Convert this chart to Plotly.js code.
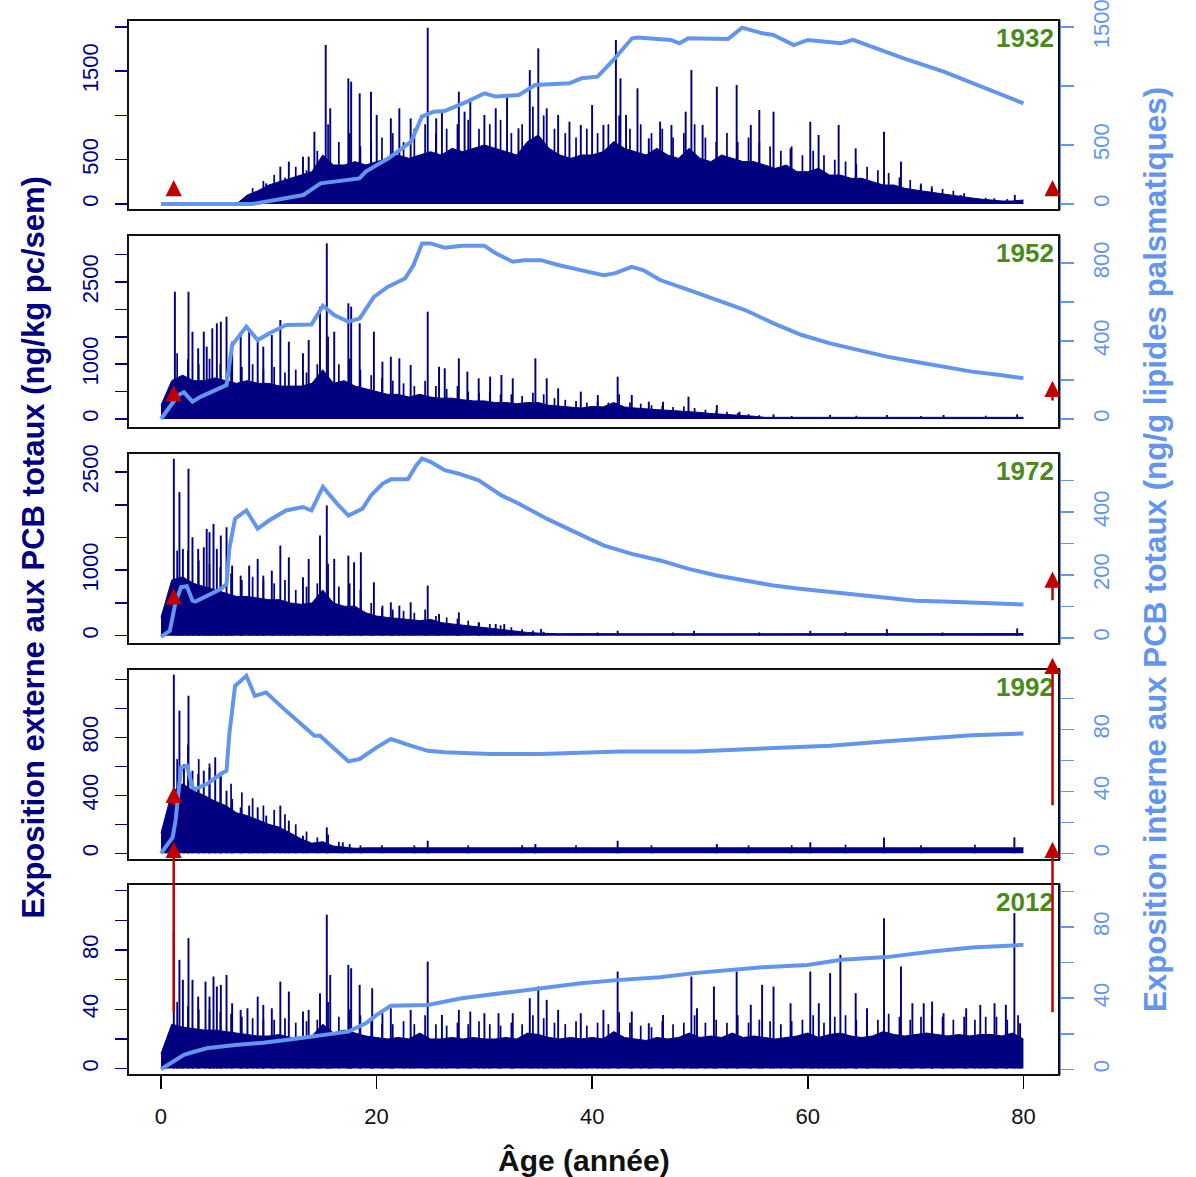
<!DOCTYPE html>
<html><head><meta charset="utf-8">
<script src="https://cdn.plot.ly/plotly-3.0.1.min.js"></script>
<style>html,body{margin:0;padding:0;background:#fff}</style>
</head><body><div id="chart" style="width:1196px;height:1177px"></div>
<script>
// ---------- DATA ----------
const years = ['1932','1952','1972','1992','2012'];
const ageYears = [0,1,2,3,4,5,6,7,8,9,10,11,12,13,14,15,16,17,18,19,20,21,22,23,24,25,26,27,28,29,30,31,32,33,34,35,36,37,38,39,40,41,42,43,44,45,46,47,48,49,50,51,52,53,54,55,56,57,58,59,60,61,62,63,64,65,66,67,68,69,70,71,72,73,74,75,76,77,78,79,80];

// dense body of weekly external exposure (ng/kg pc/sem), one value per year of age
const body1932 = [0,0,0,0,0,0,0,0,100,150,214,252,290,327,365,553,440,440,478,440,478,515,553,515,553,590,553,628,590,628,666,628,590,553,704,779,628,553,515,553,553,590,704,628,590,553,628,553,515,628,515,478,553,515,478,478,440,402,440,365,365,402,327,327,290,290,252,214,214,177,158,139,120,102,83,71,56,41,34,34,45];
const body1952 = [250,700,800,700,700,750,700,650,700,650,650,600,600,600,650,900,650,700,600,550,500,450,450,400,450,400,380,380,350,330,330,300,300,280,300,300,250,230,220,200,230,220,300,220,200,180,170,160,150,140,120,100,90,80,60,50,30,35,30,30,35,30,30,30,35,30,30,30,35,30,30,30,30,35,30,30,30,30,35,30,30];
const body1972 = [280,850,900,800,750,700,650,600,600,580,550,550,500,480,500,700,500,450,450,350,300,280,260,240,230,250,200,180,160,140,120,110,90,70,50,40,30,30,32,30,30,30,30,32,30,30,30,30,30,32,30,30,30,30,30,30,30,30,32,30,30,30,30,30,30,32,30,30,30,30,30,30,30,30,30,30,30,30,30,30,32];
const body1992 = [140,420,480,430,400,360,330,280,260,230,200,180,140,100,70,80,50,40,35,38,38,36,38,36,40,38,36,38,36,38,38,36,38,36,38,40,38,36,38,36,38,36,40,38,36,38,36,38,36,38,38,36,38,36,38,36,38,38,36,38,40,38,36,38,36,38,36,40,38,36,38,36,38,38,36,38,38,36,38,40,38];
const body2012 = [10,30,28,27,26,26,25,24,23,22,22,23,21,21,22,30,24,26,24,22,21,20,21,20,24,20,20,21,20,21,20,20,21,20,24,23,21,20,21,20,21,20,25,21,20,19,21,20,21,24,21,22,21,24,21,22,21,20,21,22,24,21,23,24,22,21,22,25,23,22,23,24,23,22,23,22,23,23,22,24,20];

// tallest visible peaks of weekly external exposure (age, value)
const spikeAge1932 = [9.76,11.07,11.86,13.17,13.70,14.23,15.28,15.70,17.38,17.64,18.43,19.48,20.01,21.32,22.11,23.16,24.74,25.53,26.06,27.63,28.16,28.69,30.00,31.05,32.10,33.16,34.21,35.0,35.78,36.84,37.89,38.94,39.99,41.04,42.2,42.62,43.14,44.2,45.25,46.30,47.35,48.67,49.2,50.24,51.56,53.4,54.71,55.5,56.82,58.4,60.23,61.0,62.86,64.44,67.07,68.64,70.48,71.5,74.17,77.3,79.2];
const spikeVal1932 = [233,421,478,534,534,816,1795,1080,1418,1381,1249,1268,1005,967,1080,967,1990,967,1042,1268,1042,1193,1005,1080,1230,854,1512,1757,1080,1005,929,892,1117,892,1851,1418,1005,1306,741,929,892,1042,1512,892,1324,1343,892,1061,1042,628,929,779,892,628,816,478,214,177,102,64,102];
const spikeAge1952 = [1.29,2.55,2.92,3.45,3.97,4.24,4.76,5.18,5.55,6.08,6.60,7.39,8.18,8.97,9.49,10.28,11.07,11.86,13.17,13.70,14.75,15.38,16.07,17.38,17.64,18.43,19.75,20.54,21.32,22.11,23.16,24.74,25.79,26.32,27.63,28.42,29.47,30.53,31.58,32.63,34.73,35.78,36.84,38.94,40.52,42.36,43.67,45.25,46.57,48.93,51.56,53.66,56.82,62.07,67.33,72.59,79.42];
const spikeVal1952 = [2324,2324,1594,1290,1594,1320,1655,1746,1776,1867,1411,1594,1655,1411,1320,1533,1807,1411,1198,1442,2050,3206,1594,2111,2050,1746,1594,1046,1137,1107,985,1959,955,925,1107,864,742,773,803,742,1107,742,560,499,438,773,438,316,316,408,255,134,85,73,73,73,85];
const spikeAge1972 = [1.19,1.71,2.03,2.55,2.92,3.45,3.97,4.24,4.50,4.87,5.18,5.55,6.08,6.60,7.39,8.18,8.97,9.49,10.28,11.07,11.86,13.17,13.70,14.75,15.38,16.07,17.38,17.91,18.54,19.75,20.54,21.32,22.11,23.16,24.74,25.79,27.63,29.47,31.05,31.84,35.26,42.36,49.45,60.23,67.33,79.42];
const spikeVal1972 = [2703,2193,1326,2550,1504,1326,1351,1632,1581,1708,1326,1530,1657,1071,918,1071,1173,918,994,1377,1198,892,1173,1530,1989,1173,1224,1122,1275,816,459,510,459,510,765,331,357,204,178,178,102,76,76,76,102,112];
const spikeAge1992 = [1.19,1.71,2.13,2.55,2.92,3.45,3.97,4.5,5.03,5.55,6.08,6.6,7.39,8.18,8.97,9.76,11.07,11.86,13.17,15.38,16.86,24.74,34.73,42.36,51.56,60.23,67.07,79.16];
const spikeVal1992 = [1232,984,616,1087,570,547,570,593,662,547,432,375,317,329,317,260,329,225,122,179,76,87,64,87,64,76,110,110];
const spikeAge2012 = [1.19,1.71,2.03,2.55,2.92,3.45,4.13,4.50,4.87,5.18,5.55,6.08,6.60,7.39,8.02,8.97,9.49,10.28,11.07,11.86,13.17,13.70,14.75,15.38,15.70,17.38,17.64,18.43,19.59,20.54,21.32,23.16,24.74,26.06,27.63,28.69,30.0,31.31,32.63,34.21,35.0,35.78,36.84,38.94,41.04,42.36,43.67,45.25,46.57,49.2,49.72,51.29,53.4,54.71,55.76,56.82,58.4,60.23,61.02,62.07,63.02,64.44,65.49,67.07,68.64,69.70,70.75,71.53,72.59,74.69,76.0,77.32,78.37,79.16,79.69];
const spikeVal2012 = [92.5,73.4,59.9,88.0,59.9,48.6,58.7,48.6,62.1,55.4,56.5,63.2,44.1,39.6,40.7,48.6,43.0,40.7,58.7,52.0,38.5,39.6,50.9,103.8,63.2,70.0,67.7,56.5,54.2,37.4,40.7,39.6,72.2,36.2,39.6,38.5,37.4,37.4,37.4,47.5,55.4,46.4,39.6,37.4,39.6,65.5,38.5,30.6,36.2,62.1,40.7,55.4,65.5,43.0,56.5,55.4,44.1,65.5,44.1,64.4,76.7,50.9,40.7,101.5,68.9,44.1,44.1,45.2,37.4,40.7,43.0,44.1,43.0,104.9,30.6];

// medium-height peaks inside the dense mass (age, value)
const midAge1932 = [8.5,9.5,10.5,11.5,12.5,13.5,14.5,15.5,16.5,17.5,18.5,19.5,20.5,21.5,22.5,23.5,24.5,25.5,26.5,27.5,28.5,29.5,30.5,31.5,32.5,33.5,34.5,35.5,36.5,37.5,38.5,39.5,40.5,41.5,42.5,43.5,44.5,45.5,46.5,47.5,48.5,49.5,50.5,51.5,52.5,53.5,54.5,55.5,56.5,57.5,58.5,59.5,60.5,61.5,62.5,63.5,64.5,65.5,66.5,67.5,68.5,69.5,70.5,71.5,72.5,73.5,74.5,76.5,78.5];
const midVal1932 = [180,260,330,300,420,380,600,900,700,800,650,700,750,800,700,850,900,800,850,900,950,850,900,950,800,900,1100,1000,850,800,750,850,800,900,1000,850,900,800,850,750,800,900,750,700,800,700,750,700,650,600,650,550,600,550,500,480,450,420,380,350,300,270,230,200,170,150,120,70,55];
const midAge1952 = [0.5,1.5,2.5,3.5,4.5,5.5,6.5,7.5,8.5,9.5,10.5,11.5,12.5,13.5,14.5,15.5,16.5,17.5,18.5,19.5,20.5,21.5,22.5,23.5,24.5,25.5,26.5,27.5,28.5,29.5,30.5,31.5,32.5,33.5,34.5,35.5,36.5,37.5,38.5,39.5,40.5,41.5,42.5,43.5,44.5,45.5,46.5,47.5,48.5,49.5,50.5,51.5,52.5,53.5,54.5,55.5,58.5,64.5,70.5,76.5];
const midVal1952 = [300,1200,1100,1000,1100,1000,1050,950,1000,900,950,850,900,850,1000,1500,1000,1100,900,800,750,700,650,600,700,600,550,600,500,480,500,450,450,420,480,450,380,350,330,300,320,300,450,300,280,250,240,220,230,200,170,150,130,110,90,70,55,60,55,60];
const midAge1972 = [0.5,1.5,2.5,3.5,4.5,5.5,6.5,7.5,8.5,9.5,10.5,11.5,12.5,13.5,14.5,15.5,16.5,17.5,18.5,19.5,20.5,21.5,22.5,23.5,24.5,25.5,26.5,27.5,28.5,29.5,30.5,31.5,32.5,33.5,34.5,35.5,40.5,47.5,55.5,63.5,72.5];
const midVal1972 = [330,1300,1300,1150,1100,1050,950,850,900,850,800,850,700,750,800,1100,750,800,700,500,420,400,380,350,400,300,280,260,230,200,180,160,130,100,80,60,50,50,50,55,50];
const midAge1992 = [0.5,1.5,2.5,3.5,4.5,5.5,6.5,7.5,8.5,9.5,10.5,11.5,12.5,13.5,14.5,15.5,16.5,17.5,18.5,20.5,23.5,28.5,33.5,38.5,45.5,54.5,58.5,63.5,70.5,75.5];
const midVal1992 = [180,650,750,650,620,560,480,420,380,330,300,270,200,150,110,130,80,65,55,55,55,55,55,55,55,55,55,60,55,60];
const midAge2012 = [0.5,1.5,2.5,3.5,4.5,5.5,6.5,7.5,8.5,9.5,10.5,11.5,12.5,13.5,14.5,15.5,16.5,17.5,18.5,19.5,20.5,21.5,22.5,23.5,24.5,25.5,26.5,27.5,28.5,29.5,30.5,31.5,32.5,33.5,34.5,35.5,36.5,37.5,38.5,39.5,40.5,41.5,42.5,43.5,44.5,45.5,46.5,47.5,48.5,49.5,50.5,51.5,52.5,53.5,54.5,55.5,56.5,57.5,58.5,59.5,60.5,61.5,62.5,63.5,64.5,65.5,66.5,67.5,68.5,69.5,70.5,71.5,72.5,73.5,74.5,75.5,76.5,77.5,78.5,79.5];
const midVal2012 = [14,45,42,40,40,38,37,35,34,33,33,34,31,32,33,45,35,40,36,33,30,30,32,30,36,30,29,31,30,32,30,29,31,30,36,34,31,30,32,29,31,30,38,31,29,28,32,30,31,36,31,33,31,36,31,33,32,30,32,33,36,31,35,36,33,31,33,37,35,33,35,36,35,33,35,33,35,35,33,36];

// internal exposure (ng/g lipides plasmatiques)
const lineAge1932 = [0,8.5,13.2,14.8,18.4,19.0,21.1,23.2,24.2,25.3,26.3,28.4,30.0,31.05,33.2,34.7,37.9,39.0,40.5,42.1,43.7,44.2,47.3,48.1,48.9,52.6,53.9,54.7,55.8,56.8,58.7,60.0,62.1,63.1,64.2,66.3,68.9,72.6,75.7,80.0];
const lineVal1932 = [0,0,76,175,217,274,387,528,740,782,788,867,938,910,924,1008,1023,1065,1079,1234,1404,1410,1390,1362,1404,1398,1494,1475,1446,1432,1347,1390,1376,1362,1390,1319,1234,1121,1008,853];
const lineAge1952 = [0,1.61,2.13,2.92,3.71,5.29,6.08,6.60,7.92,8.97,10.02,11.6,13.96,15.02,16.07,17.38,18.43,19.75,21.06,22.64,23.43,24.22,25.0,26.32,27.9,30.0,31.05,32.63,33.68,35.26,36.84,38.94,41.04,42.09,43.67,44.72,46.30,48.93,51.56,54.19,56.82,59.44,62.07,64.70,67.33,69.96,72.59,75.22,77.85,80.0];
const lineVal1952 = [0,123,137,89,115,157,174,379,474,405,439,482,485,581,533,499,516,627,679,721,790,901,901,879,889,889,850,807,815,815,790,764,738,747,781,764,713,662,610,559,491,431,388,354,320,294,268,243,226,209];
const lineAge1972 = [0,0.82,1.35,1.87,2.40,2.92,3.19,4.24,5.55,6.08,6.34,6.87,7.92,8.97,10.02,11.6,13.17,13.96,15.02,16.33,17.38,18.7,19.48,20.54,21.32,22.9,23.69,24.22,25.0,26.32,27.63,29.47,31.58,33.16,35.78,38.41,41.04,43.67,46.30,48.93,51.56,54.19,56.82,59.44,62.07,64.70,67.33,69.96,72.59,75.22,80.0];
const lineVal1972 = [3,22,113,161,164,118,115,134,155,171,283,379,405,347,373,405,416,405,480,427,389,411,453,490,504,504,549,570,560,533,522,501,453,427,379,336,294,267,246,219,198,182,166,155,145,136,127,118,115,111,106];
const lineAge1992 = [0,1.08,1.35,1.87,2.40,2.92,3.19,4.24,5.55,6.08,6.34,6.87,7.92,8.70,9.76,11.6,14.23,14.75,17.38,18.43,20.01,21.32,23.16,24.74,26.32,30.53,35.26,42.62,49.45,56.82,62.07,67.33,72.59,75.22,80.0];
const lineVal1992 = [0,10.3,21,55.5,56.6,42.6,41.5,44.7,51.2,53.3,77,108,114.6,101.7,103.9,92,75.9,75.9,59.4,60.9,68.4,73.8,69.5,66.2,65.2,64.1,64.1,65.8,65.8,68,69.5,72.3,74.8,76.3,77.4];
const lineAge2012 = [0,1.08,2.13,2.92,4.24,6.87,9.49,12.12,14.75,17.38,19.0,20.01,21.32,24.74,27.9,31.58,35.78,38.94,42.62,46.3,49.45,52.61,55.76,59.97,63.12,67.33,71.53,75.22,80.0];
const lineVal2012 = [0,4.3,8.1,9.6,11.8,13.7,15,16.9,19.3,21.2,25.9,30.6,35.7,36.2,40,42.8,46.5,48.4,50.3,51.8,54.1,55.9,57.4,58.7,61.6,63.1,66.3,68.5,70];

// red arrows (age position, tail and head in left-axis units of each panel)
const arrowAge = [1.18, 82.7];
const arrowTail1932 = [113, 113], arrowHead1932 = [271, 271];
const arrowTail1952 = [365, 310], arrowHead1952 = [620, 699];
const arrowTail1972 = [511, 520], arrowHead1972 = [725, 979];
const arrowTail1992 = [321, 321], arrowHead1992 = [459, 1349];
const arrowTail2012 = [37, 37],   arrowHead2012 = [153, 153];

// axis ticks
const xTicks = [0,20,40,60,80];
const leftTicks1932 = [0,500,1000,1500,2000], leftText1932 = ['0','500','','1500',''];
const leftTicks1952 = [0,500,1000,1500,2000,2500,3000], leftText1952 = ['0','','1000','','','2500',''];
const leftTicks1972 = [0,500,1000,1500,2000,2500], leftText1972 = ['0','','1000','','','2500'];
const leftTicks1992 = [0,200,400,600,800,1000,1200], leftText1992 = ['0','','400','','800','',''];
const leftTicks2012 = [0,20,40,60,80,100,120], leftText2012 = ['0','','40','','80','',''];
const rightTicks1932 = [0,500,1000,1500], rightText1932 = ['0','500','','1500'];
const rightTicks1952 = [0,200,400,600,800], rightText1952 = ['0','','400','','800'];
const rightTicks1972 = [0,100,200,300,400,500], rightText1972 = ['0','','200','','400',''];
const rightTicks1992 = [0,20,40,60,80,100], rightText1992 = ['0','','40','','80',''];
const rightTicks2012 = [0,20,40,60,80,100], rightText2012 = ['0','','40','','80',''];

// ---------- BUILD ----------
const NAVY = '#000080', BLUE = '#6495ED', RED = '#C00000', GREEN = '#4a8a1a';
const FONT = 'Liberation Sans, Arial, Helvetica, sans-serif';
const W = 1196, H = 1177, M = {l:128, r:137, t:20, b:102};
const plotH = H - M.t - M.b;

const panels = [
  {year:'1932', body:body1932, sa:spikeAge1932, sv:spikeVal1932, ma:midAge1932, mv:midVal1932, la:lineAge1932, lv:lineVal1932,
   at:arrowTail1932, ah:arrowHead1932, lt:leftTicks1932, ltx:leftText1932, rt:rightTicks1932, rtx:rightText1932,
   dom:[0.8199,1.0], lr:[-68,2077], rr:[-51,1559]},
  {year:'1952', body:body1952, sa:spikeAge1952, sv:spikeVal1952, ma:midAge1952, mv:midVal1952, la:lineAge1952, lv:lineVal1952,
   at:arrowTail1952, ah:arrowHead1952, lt:leftTicks1952, ltx:leftText1952, rt:rightTicks1952, rtx:rightText1952,
   dom:[0.6133,0.7962], lr:[-164,3358], rr:[-46,944]},
  {year:'1972', body:body1972, sa:spikeAge1972, sv:spikeVal1972, ma:midAge1972, mv:midVal1972, la:lineAge1972, lv:lineVal1972,
   at:arrowTail1972, ah:arrowHead1972, lt:leftTicks1972, ltx:leftText1972, rt:rightTicks1972, rtx:rightText1972,
   dom:[0.4085,0.5896], lr:[-127,2791], rr:[-20,588]},
  {year:'1992', body:body1992, sa:spikeAge1992, sv:spikeVal1992, ma:midAge1992, mv:midVal1992, la:lineAge1992, lv:lineVal1992,
   at:arrowTail1992, ah:arrowHead1992, lt:leftTicks1992, ltx:leftText1992, rt:rightTicks1992, rtx:rightText1992,
   dom:[0.2038,0.3848], lr:[-46,1271], rr:[-4.3,119]},
  {year:'2012', body:body2012, sa:spikeAge2012, sv:spikeVal2012, ma:midAge2012, mv:midVal2012, la:lineAge2012, lv:lineVal2012,
   at:arrowTail2012, ah:arrowHead2012, lt:leftTicks2012, ltx:leftText2012, rt:rightTicks2012, rtx:rightText2012,
   dom:[0,0.1810], lr:[-4.3,124.5], rr:[-3.2,104.2]}
];

const sfx = n => (n === 1 ? '' : String(n));
const traces = [];
const layout = {
  width: W, height: H, margin: M, showlegend: false,
  paper_bgcolor: '#fff', plot_bgcolor: '#fff',
  font: {family: FONT, size: 22, color: '#111'},
  hovermode: false, barmode: 'overlay',
  shapes: [], annotations: []
};

panels.forEach((p, k) => {
  const i = k + 1;
  const xa = 'x' + sfx(i), yl = 'y' + sfx(2*i - 1), yr = 'y' + sfx(2*i);
  // dense body
  traces.push({type:'scatter', mode:'lines', x: ageYears, y: p.body, xaxis: xa, yaxis: yl,
    line:{color: NAVY, width: 1}, fill:'tozeroy', fillcolor: NAVY});
  // medium peaks
  traces.push({type:'bar', x: p.ma, y: p.mv, xaxis: xa, yaxis: yl, width: 0.16,
    marker:{color: NAVY, line:{width:0}}});
  // tallest peaks
  traces.push({type:'bar', x: p.sa, y: p.sv, xaxis: xa, yaxis: yl, width: 0.18,
    marker:{color: NAVY, line:{width:0}}});
  // internal exposure line
  traces.push({type:'scatter', mode:'lines', x: p.la, y: p.lv, xaxis: xa, yaxis: yr,
    line:{color: BLUE, width: 4}});

  layout['xaxis' + sfx(i)] = {
    domain:[0,1], range:[-3.06, 83.3], anchor: yl, showgrid:false, zeroline:false,
    showline:false, showticklabels: i === 5, ticks: i === 5 ? 'outside' : '',
    tickvals: xTicks, ticklen: 13, tickwidth: 1.5, tickcolor:'#000',
    tickfont:{size:22, color:'#111'}, ticklabelstandoff: 9, ticklabeloverflow:'allow'
  };
  layout['yaxis' + sfx(2*i - 1)] = {
    domain: p.dom, range: p.lr, anchor: xa, side:'left', showgrid:false, zeroline:false,
    tickvals: p.lt, ticktext: p.ltx, ticks:'outside', ticklen: 12, tickwidth: 1.5,
    tickcolor: NAVY, tickfont:{size:22, color: NAVY}, tickangle: -90, ticklabelstandoff: 8,
    ticklabeloverflow:'allow', showline:false
  };
  layout['yaxis' + sfx(2*i)] = {
    domain: p.dom, range: p.rr, anchor: xa, overlaying: yl, side:'right', showgrid:false, zeroline:false,
    tickvals: p.rt, ticktext: p.rtx, ticks:'outside', ticklen: 13, tickwidth: 1.5,
    tickcolor: BLUE, tickfont:{size:22, color: BLUE}, tickangle: -90, ticklabelstandoff: 9,
    ticklabeloverflow:'allow', showline:true, linecolor: BLUE, linewidth: 2
  };
  layout.shapes.push({type:'rect', xref: xa + ' domain', yref: yl + ' domain', x0:0, x1:1, y0:0, y1:1,
    line:{color:'#111', width:2}, layer:'above'});
  layout.annotations.push({xref: xa + ' domain', yref: yl + ' domain', x:1, y:1, xanchor:'right', yanchor:'top',
    xshift:-3, yshift:-1, showarrow:false, text:'<b>' + p.year + '</b>', font:{size:26, color: GREEN, family: FONT}});
  // arrows: value -> paper via the panel's left axis scale
  const toPaper = v => p.dom[0] + (v - p.lr[0]) / (p.lr[1] - p.lr[0]) * (p.dom[1] - p.dom[0]);
  arrowAge.forEach((a, j) => {
    const hp = toPaper(p.ah[j]), tp = toPaper(p.at[j]);
    layout.annotations.push({xref: xa, yref:'paper', x: a, y: hp, axref:'pixel', ayref:'pixel',
      ax: 0, ay: (hp - tp) * plotH, showarrow:true, text:'', arrowhead:2, arrowsize:1.3,
      arrowwidth:2.5, arrowcolor: RED, standoff:0});
  });
});

// axis titles
layout.annotations.push({xref:'paper', yref:'paper', x:(33 - M.l)/(W - M.l - M.r), y:0.5, xanchor:'center', yanchor:'middle',
  textangle:-90, showarrow:false, text:'<b>Exposition externe aux PCB totaux (ng/kg pc/sem)</b>', font:{size:31, color: NAVY, family: FONT}});
layout.annotations.push({xref:'paper', yref:'paper', x:(1155 - M.l)/(W - M.l - M.r), y:0.4976, xanchor:'center', yanchor:'middle',
  textangle:-90, showarrow:false, text:'<b>Exposition interne aux PCB totaux (ng/g lipides palsmatiques)</b>', font:{size:31.3, color: BLUE, family: FONT}});
layout.annotations.push({xref:'paper', yref:'paper', x:(584 - M.l)/(W - M.l - M.r), y:-0.0806, xanchor:'center', yanchor:'middle',
  showarrow:false, text:'<b>Âge (année)</b>', font:{size:30, color:'#111', family: FONT}});

Plotly.newPlot('chart', traces, layout, {displayModeBar:false, staticPlot:true});
</script>
</body></html>
